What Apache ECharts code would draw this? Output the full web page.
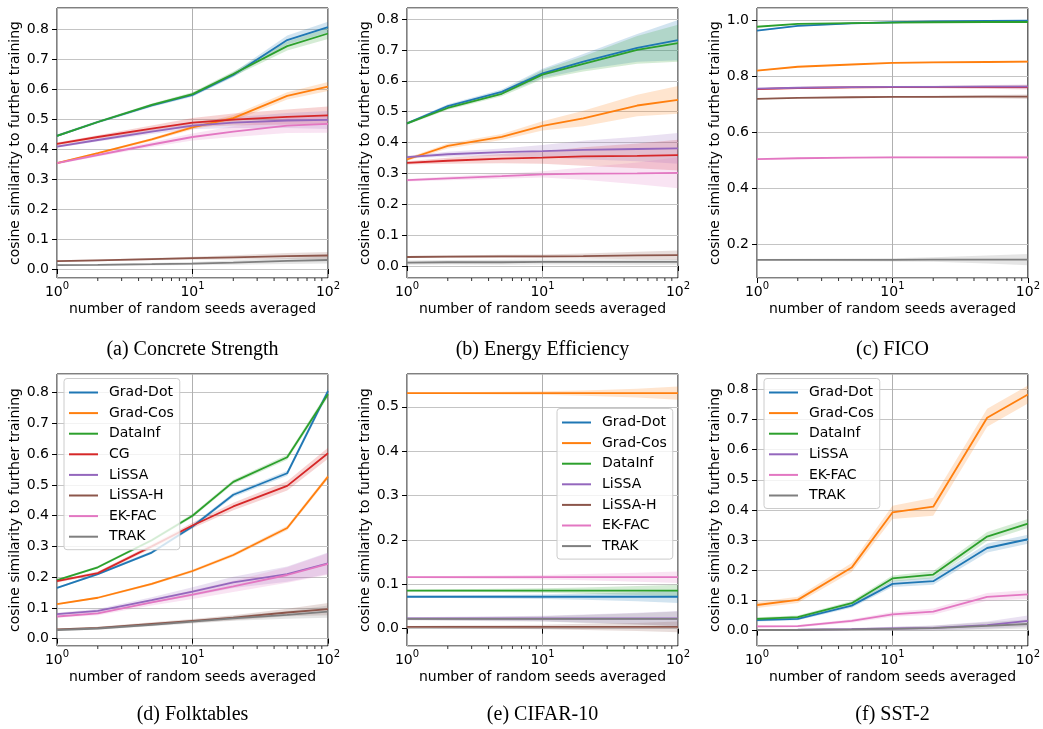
<!DOCTYPE html>
<html>
<head>
<meta charset="utf-8">
<script src="https://cdn.jsdelivr.net/npm/echarts@6/dist/echarts.min.js"></script>
<style>
html, body { margin: 0; padding: 0; background: #fff; }
#main { width: 1043px; height: 729px; }
</style>
</head>
<body>
<div id="main"></div>
<script>
// number of random seeds averaged (x values)
var seeds = [1, 2, 5, 10, 20, 50, 100];
var minorSeeds = [2, 3, 4, 5, 6, 7, 8, 9, 20, 30, 40, 50, 60, 70, 80, 90];

var methodColor = {
  'Grad-Dot': '#1f77b4',
  'Grad-Cos': '#ff7f0e',
  'DataInf': '#2ca02c',
  'CG': '#d62728',
  'LiSSA': '#9467bd',
  'LiSSA-H': '#8c564b',
  'EK-FAC': '#e377c2',
  'TRAK': '#7f7f7f'
};

// (a) Concrete Strength
var concreteMethods = ['Grad-Dot', 'Grad-Cos', 'DataInf', 'CG', 'LiSSA', 'LiSSA-H', 'EK-FAC', 'TRAK'];
var concreteMean = [
  [0.444, 0.490, 0.545, 0.580, 0.647, 0.763, 0.806],
  [0.353, 0.386, 0.432, 0.472, 0.503, 0.577, 0.608],
  [0.444, 0.490, 0.547, 0.583, 0.650, 0.743, 0.785],
  [0.417, 0.440, 0.468, 0.488, 0.498, 0.507, 0.512],
  [0.408, 0.430, 0.458, 0.478, 0.488, 0.495, 0.497],
  [0.026, 0.029, 0.033, 0.036, 0.039, 0.043, 0.045],
  [0.353, 0.380, 0.415, 0.440, 0.458, 0.478, 0.484],
  [0.013, 0.014, 0.016, 0.018, 0.021, 0.027, 0.030]
];
var concreteSpread = [
  [0.004, 0.004, 0.005, 0.006, 0.008, 0.015, 0.018],
  [0.003, 0.003, 0.005, 0.007, 0.010, 0.012, 0.015],
  [0.004, 0.004, 0.005, 0.006, 0.008, 0.015, 0.018],
  [0.005, 0.006, 0.010, 0.015, 0.020, 0.025, 0.030],
  [0.004, 0.005, 0.008, 0.012, 0.018, 0.025, 0.030],
  [0.003, 0.003, 0.004, 0.005, 0.007, 0.010, 0.012],
  [0.004, 0.005, 0.008, 0.012, 0.018, 0.025, 0.030],
  [0.003, 0.003, 0.004, 0.005, 0.007, 0.010, 0.012]
];

// (b) Energy Efficiency
var energyMethods = ['Grad-Dot', 'Grad-Cos', 'DataInf', 'CG', 'LiSSA', 'LiSSA-H', 'EK-FAC', 'TRAK'];
var energyMean = [
  [0.462, 0.518, 0.564, 0.624, 0.662, 0.707, 0.732],
  [0.345, 0.389, 0.418, 0.454, 0.478, 0.520, 0.538],
  [0.462, 0.512, 0.558, 0.620, 0.655, 0.700, 0.722],
  [0.334, 0.341, 0.348, 0.351, 0.355, 0.357, 0.359],
  [0.353, 0.362, 0.369, 0.372, 0.376, 0.379, 0.381],
  [0.029, 0.030, 0.031, 0.031, 0.032, 0.034, 0.035],
  [0.278, 0.284, 0.291, 0.297, 0.299, 0.300, 0.302],
  [0.011, 0.012, 0.012, 0.013, 0.013, 0.013, 0.013]
];
var energySpread = [
  [0.004, 0.006, 0.008, 0.015, 0.025, 0.045, 0.065],
  [0.005, 0.008, 0.010, 0.015, 0.025, 0.035, 0.045],
  [0.004, 0.006, 0.008, 0.015, 0.025, 0.045, 0.060],
  [0.005, 0.010, 0.015, 0.020, 0.030, 0.040, 0.050],
  [0.004, 0.008, 0.012, 0.020, 0.030, 0.040, 0.050],
  [0.003, 0.004, 0.005, 0.006, 0.008, 0.012, 0.015],
  [0.004, 0.006, 0.008, 0.010, 0.020, 0.035, 0.050],
  [0.007, 0.007, 0.008, 0.008, 0.008, 0.009, 0.009]
];

// (c) FICO
var ficoMethods = ['Grad-Dot', 'Grad-Cos', 'DataInf', 'CG', 'LiSSA', 'LiSSA-H', 'EK-FAC', 'TRAK'];
var ficoMean = [
  [0.964, 0.981, 0.990, 0.994, 0.997, 0.999, 1.000],
  [0.821, 0.835, 0.843, 0.849, 0.851, 0.852, 0.853],
  [0.978, 0.988, 0.991, 0.993, 0.994, 0.995, 0.995],
  [0.755, 0.759, 0.761, 0.762, 0.762, 0.762, 0.762],
  [0.757, 0.760, 0.762, 0.763, 0.763, 0.764, 0.764],
  [0.720, 0.724, 0.726, 0.727, 0.727, 0.728, 0.728],
  [0.505, 0.508, 0.510, 0.511, 0.511, 0.511, 0.511],
  [0.145, 0.145, 0.145, 0.145, 0.146, 0.146, 0.146]
];
var ficoSpread = [
  [0.002, 0.002, 0.002, 0.002, 0.002, 0.002, 0.002],
  [0.002, 0.002, 0.002, 0.002, 0.003, 0.003, 0.004],
  [0.002, 0.002, 0.002, 0.002, 0.002, 0.002, 0.002],
  [0.002, 0.002, 0.003, 0.003, 0.004, 0.006, 0.008],
  [0.002, 0.002, 0.003, 0.003, 0.004, 0.006, 0.008],
  [0.002, 0.002, 0.003, 0.003, 0.004, 0.006, 0.008],
  [0.002, 0.002, 0.002, 0.003, 0.003, 0.005, 0.006],
  [0.003, 0.004, 0.005, 0.006, 0.008, 0.014, 0.020]
];

// (d) Folktables
var folkMethods = ['Grad-Dot', 'Grad-Cos', 'DataInf', 'CG', 'LiSSA', 'LiSSA-H', 'EK-FAC', 'TRAK'];
var folkMean = [
  [0.165, 0.210, 0.280, 0.365, 0.468, 0.538, 0.805],
  [0.112, 0.133, 0.178, 0.220, 0.272, 0.360, 0.527],
  [0.190, 0.232, 0.320, 0.400, 0.510, 0.590, 0.795],
  [0.187, 0.213, 0.300, 0.368, 0.430, 0.497, 0.603],
  [0.080, 0.090, 0.125, 0.153, 0.183, 0.210, 0.245],
  [0.030, 0.035, 0.048, 0.058, 0.068, 0.085, 0.096],
  [0.072, 0.082, 0.118, 0.143, 0.170, 0.207, 0.243],
  [0.028, 0.033, 0.045, 0.055, 0.066, 0.077, 0.088]
];
var folkSpread = [
  [0.003, 0.004, 0.005, 0.006, 0.007, 0.008, 0.010],
  [0.002, 0.003, 0.004, 0.005, 0.006, 0.007, 0.008],
  [0.003, 0.004, 0.005, 0.006, 0.007, 0.008, 0.010],
  [0.004, 0.005, 0.007, 0.009, 0.012, 0.015, 0.018],
  [0.004, 0.006, 0.010, 0.014, 0.018, 0.025, 0.035],
  [0.003, 0.004, 0.005, 0.006, 0.008, 0.012, 0.020],
  [0.004, 0.006, 0.010, 0.014, 0.018, 0.025, 0.035],
  [0.003, 0.004, 0.005, 0.006, 0.008, 0.012, 0.020]
];

// (e) CIFAR-10
var cifarMethods = ['Grad-Dot', 'Grad-Cos', 'DataInf', 'LiSSA', 'LiSSA-H', 'EK-FAC', 'TRAK'];
var cifarMean = [
  [0.072, 0.072, 0.072, 0.072, 0.072, 0.072, 0.072],
  [0.531, 0.531, 0.531, 0.531, 0.531, 0.531, 0.531],
  [0.086, 0.086, 0.086, 0.086, 0.086, 0.086, 0.086],
  [0.023, 0.023, 0.023, 0.023, 0.023, 0.023, 0.023],
  [0.004, 0.004, 0.004, 0.004, 0.004, 0.004, 0.004],
  [0.116, 0.116, 0.116, 0.116, 0.116, 0.116, 0.116],
  [0.022, 0.022, 0.022, 0.022, 0.022, 0.022, 0.022]
];
var cifarSpread = [
  [0.002, 0.003, 0.004, 0.005, 0.007, 0.010, 0.014],
  [0.002, 0.002, 0.003, 0.004, 0.006, 0.010, 0.015],
  [0.002, 0.003, 0.004, 0.005, 0.007, 0.010, 0.013],
  [0.003, 0.004, 0.005, 0.006, 0.009, 0.013, 0.017],
  [0.002, 0.003, 0.004, 0.005, 0.007, 0.009, 0.012],
  [0.002, 0.003, 0.004, 0.005, 0.007, 0.010, 0.013],
  [0.003, 0.004, 0.005, 0.006, 0.009, 0.013, 0.017]
];

// (f) SST-2
var sstMethods = ['Grad-Dot', 'Grad-Cos', 'DataInf', 'LiSSA', 'EK-FAC', 'TRAK'];
var sstMean = [
  [0.035, 0.039, 0.083, 0.155, 0.164, 0.274, 0.303],
  [0.085, 0.102, 0.209, 0.392, 0.411, 0.706, 0.783],
  [0.039, 0.045, 0.091, 0.173, 0.186, 0.312, 0.355],
  [0.002, 0.003, 0.005, 0.007, 0.009, 0.018, 0.032],
  [0.014, 0.015, 0.032, 0.054, 0.063, 0.112, 0.120],
  [0.002, 0.002, 0.004, 0.006, 0.008, 0.016, 0.022]
];
var sstSpread = [
  [0.005, 0.005, 0.007, 0.010, 0.012, 0.015, 0.015],
  [0.010, 0.010, 0.015, 0.022, 0.030, 0.030, 0.030],
  [0.005, 0.005, 0.007, 0.010, 0.012, 0.015, 0.015],
  [0.002, 0.003, 0.004, 0.006, 0.008, 0.012, 0.018],
  [0.004, 0.004, 0.006, 0.008, 0.010, 0.013, 0.015],
  [0.002, 0.003, 0.004, 0.006, 0.008, 0.012, 0.015]
];

var captions = ['(a) Concrete Strength', '(b) Energy Efficiency', '(c) FICO',
                '(d) Folktables', '(e) CIFAR-10', '(f) SST-2'];

var panels = [
  { methods: concreteMethods, mean: concreteMean, spread: concreteSpread, yMin: -0.03, yMax: 0.87, step: 0.1 },
  { methods: energyMethods, mean: energyMean, spread: energySpread, yMin: -0.039, yMax: 0.836, step: 0.1 },
  { methods: ficoMethods, mean: ficoMean, spread: ficoSpread, yMin: 0.08, yMax: 1.045, step: 0.2 },
  { methods: folkMethods, mean: folkMean, spread: folkSpread, yMin: -0.024, yMax: 0.861, step: 0.1 },
  { methods: cifarMethods, mean: cifarMean, spread: cifarSpread, yMin: -0.039, yMax: 0.574, step: 0.1 },
  { methods: sstMethods, mean: sstMean, spread: sstSpread, yMin: -0.051, yMax: 0.851, step: 0.1 }
];

var FONT = 'DejaVu Sans';
var colLeft = [57, 407, 757];
var rowTop = [8, 374];
var rowHeight = [270, 272];
var plotWidth = 271;

function fade(hex, a) {
  var n = parseInt(hex.slice(1), 16);
  return 'rgba(' + (n >> 16) + ',' + ((n >> 8) & 255) + ',' + (n & 255) + ',' + a + ')';
}

var grids = [], xAxes = [], yAxes = [], series = [], graphics = [];

panels.forEach(function (p, i) {
  var col = i % 3, row = Math.floor(i / 3);
  grids.push({
    left: colLeft[col], top: rowTop[row], width: plotWidth, height: rowHeight[row],
    show: true, borderColor: '#000', borderWidth: 1, backgroundColor: 'transparent'
  });
  xAxes.push({
    gridIndex: i, type: 'log', logBase: 10, min: 1, max: 100,
    name: 'number of random seeds averaged', nameLocation: 'middle', nameGap: 24,
    nameTextStyle: { fontFamily: FONT, fontSize: 14, color: '#000' },
    axisLine: { show: false },
    axisTick: { show: true, length: 5, lineStyle: { color: '#000', width: 1 } },
    splitLine: { show: true, lineStyle: { color: '#b0b0b0', width: 1 } },
    axisLabel: {
      margin: 3, showMinLabel: true, showMaxLabel: true,
      formatter: function (v) { return '{b|10}{s|' + Math.round(Math.log10(v)) + '}'; },
      rich: {
        b: { fontFamily: FONT, fontSize: 14, color: '#000', lineHeight: 18, verticalAlign: 'bottom' },
        s: { fontFamily: FONT, fontSize: 10, color: '#000', lineHeight: 10, verticalAlign: 'top' }
      }
    }
  });
  yAxes.push({
    gridIndex: i, type: 'value', min: p.yMin, max: p.yMax,
    minInterval: p.step, maxInterval: p.step, splitNumber: 8,
    name: 'cosine similarity to further training', nameLocation: 'middle', nameGap: 31,
    nameTextStyle: { fontFamily: FONT, fontSize: 14, color: '#000' },
    axisLine: { show: false },
    axisTick: { show: true, length: 5, lineStyle: { color: '#000', width: 1 } },
    splitLine: { show: true, lineStyle: { color: '#c4c4c4', width: 1 } },
    axisLabel: {
      margin: 8, showMinLabel: false, showMaxLabel: false,
      fontFamily: FONT, fontSize: 14, color: '#000',
      formatter: function (v) { return (Math.abs(v) < 1e-9 ? 0 : v).toFixed(1); }
    }
  });

  // shaded bands (mean +- spread), drawn as one polygon per method
  p.methods.forEach(function (m, k) {
    var c = methodColor[m];
    var lo = p.mean[k].map(function (v, j) { return v - p.spread[k][j]; });
    var hi = p.mean[k].map(function (v, j) { return v + p.spread[k][j]; });
    series.push({
      type: 'custom', name: m + ' band', xAxisIndex: i, yAxisIndex: i, silent: true, z: 1,
      data: seeds.map(function (s, j) { return [s, lo[j], hi[j]]; }),
      encode: { x: 0, y: [1, 2] },
      renderItem: function (params, api) {
        if (params.dataIndex !== 0) return null;
        var upper = [], lower = [];
        seeds.forEach(function (s, j) {
          upper.push(api.coord([s, hi[j]]));
          lower.unshift(api.coord([s, lo[j]]));
        });
        return {
          type: 'polygon',
          shape: { points: upper.concat(lower) },
          style: { fill: fade(c, 0.2), stroke: null }
        };
      }
    });
  });
  p.methods.forEach(function (m, k) {
    series.push({
      type: 'line', name: m, xAxisIndex: i, yAxisIndex: i,
      data: seeds.map(function (s, j) { return [s, p.mean[k][j]]; }),
      symbol: 'none', z: 3, color: methodColor[m],
      lineStyle: { width: 1.8, color: methodColor[m] }
    });
  });
  // minor ticks of the log axis
  series.push({
    type: 'custom', xAxisIndex: i, yAxisIndex: i, silent: true, z: 4,
    data: minorSeeds.map(function (s) { return [s, p.yMin]; }),
    renderItem: function (params, api) {
      var pt = api.coord([api.value(0), api.value(1)]);
      var y0 = params.coordSys.y + params.coordSys.height;
      return {
        type: 'line',
        shape: { x1: pt[0], y1: y0, x2: pt[0], y2: y0 + 3 },
        style: { stroke: '#000', lineWidth: 0.8 }
      };
    }
  });

  graphics.push({
    type: 'text',
    x: colLeft[col] + plotWidth / 2,
    y: row === 0 ? 350 : 715,
    style: {
      text: captions[i], fill: '#000',
      font: '20px "Liberation Serif"',
      align: 'center', verticalAlign: 'middle',
      textAlign: 'center', textVerticalAlign: 'middle'
    }
  });
});

function legendAt(names, left, top) {
  return {
    data: names, orient: 'vertical', left: left, top: top,
    icon: 'rect', itemWidth: 29, itemHeight: 2, itemGap: 6.6,
    padding: [7, 6, 6, 5],
    backgroundColor: 'rgba(255,255,255,0.8)',
    borderColor: '#cccccc', borderWidth: 1, borderRadius: 3,
    selectedMode: false,
    textStyle: { fontFamily: FONT, fontSize: 14, lineHeight: 14, color: '#000', padding: [0, 0, 0, 6] }
  };
}

var chart = echarts.init(document.getElementById('main'));
chart.setOption({
  animation: false,
  backgroundColor: '#fff',
  grid: grids,
  xAxis: xAxes,
  yAxis: yAxes,
  legend: [
    legendAt(folkMethods, 64, 378.5),
    legendAt(cifarMethods, 557, 408.5),
    legendAt(sstMethods, 764, 378.5)
  ],
  graphic: graphics,
  series: series
});
</script>
</body>
</html>
